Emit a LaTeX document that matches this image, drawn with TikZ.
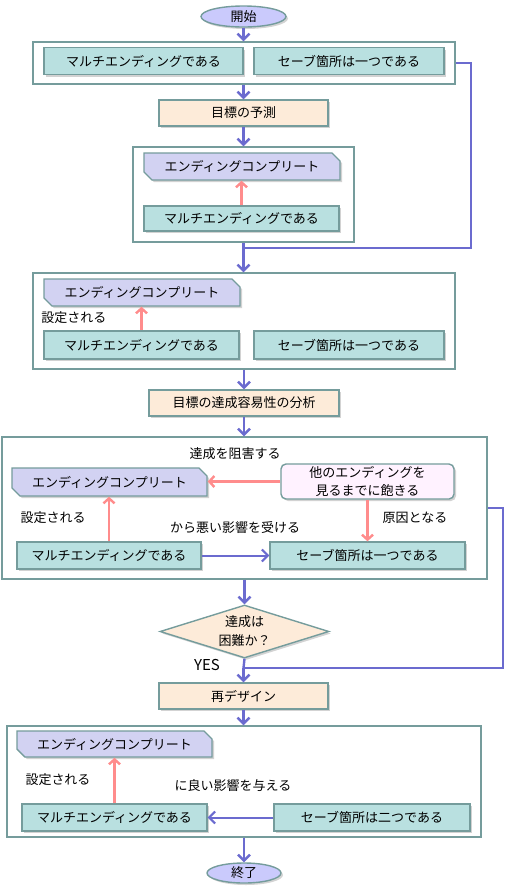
\documentclass[tikz,border=0pt]{standalone}
\usepackage{fontspec}
\setmainfont{Noto Sans CJK JP}
\usetikzlibrary{shapes.geometric, shapes.misc, shadows, arrows.meta}

\definecolor{edge}{HTML}{759C9C}
\definecolor{flowblue}{HTML}{6B6BCF}
\definecolor{linkpink}{HTML}{FF8C8C}
\definecolor{tealfill}{HTML}{B9E0E0}
\definecolor{lavfill}{HTML}{D2D2F2}
\definecolor{peach}{HTML}{FDEBD9}
\definecolor{termfill}{HTML}{CACAFC}
\definecolor{pinkfill}{HTML}{FFF2FF}

\tikzset{
  base/.style={draw=edge, line width=1.4pt, inner sep=0pt,
    drop shadow={shadow xshift=2pt, shadow yshift=-2pt, opacity=0.35}},
  terminal/.style={base, ellipse, fill=termfill},
  group/.style={draw=edge, line width=1.4pt, fill=white, inner sep=0pt},
  fact/.style={base, rectangle, fill=tealfill, minimum height=27pt},
  goal/.style={base, chamfered rectangle, chamfered rectangle corners={north east, south west},
    chamfered rectangle xsep=4pt, chamfered rectangle ysep=4pt, fill=lavfill, minimum height=27pt},
  process/.style={base, rectangle, fill=peach, minimum width=169pt, minimum height=26pt},
  cause/.style={base, rectangle, rounded corners=5pt, fill=pinkfill, align=center},
  decision/.style={base, diamond, aspect=3.2, fill=peach, align=center},
  flow/.style={draw=flowblue, line width=2.4pt, -{Straight Barb[length=6pt, width=12pt]}},
  flowline/.style={draw=flowblue, line width=2.4pt},
  link/.style={draw=linkpink, line width=2.4pt, -{Straight Barb[length=5pt, width=11pt]}},
  note/.style={inner sep=0pt}
}

\begin{document}
\begin{tikzpicture}[x=1pt, y=-1pt, font=\fontsize{13}{15}\selectfont]
  \useasboundingbox (0,0) rectangle (504,892);

  % Start
  \node[terminal, minimum width=85pt, minimum height=21pt] (start) at (243.5,16.5) {開始};

  % Group 1
  \node[group, minimum width=422pt, minimum height=42pt] (g1) at (244,63) {};
  \node[fact, minimum width=199pt] (g1multi) at (143.5,61) {マルチエンディングである};
  \node[fact, minimum width=190pt] (g1save) at (349,61) {セーブ箇所は一つである};

  % Predict
  \node[process] (predict) at (243.5,113) {目標の予測};

  % Group 2
  \node[group, minimum width=221pt, minimum height=95pt] (g2) at (243.5,194.5) {};
  \node[goal, minimum width=196pt] (g2end) at (242,166.5) {エンディングコンプリート};
  \node[fact, minimum width=195pt, minimum height=25pt] (g2multi) at (241.5,218.5) {マルチエンディングである};
  \coordinate (j1) at (243.5,248);

  % Group 3
  \node[group, minimum width=422pt, minimum height=96pt] (g3) at (244,321) {};
  \node[goal, minimum width=196pt] (g3end) at (142,292.5) {エンディングコンプリート};
  \node[fact, minimum width=195pt, minimum height=28pt] (g3multi) at (141.5,345) {マルチエンディングである};
  \node[fact, minimum width=190pt, minimum height=28pt] (g3save) at (349,345) {セーブ箇所は一つである};
  \node[note] (g3set) at (74,318) {設定される};

  % Analysis
  \node[process, minimum width=190pt] (analysis) at (244,403) {目標の達成容易性の分析};

  % Group 4
  \node[group, minimum width=485pt, minimum height=142pt] (g4) at (244.5,508) {};
  \node[goal, minimum width=195pt, minimum height=28pt] (g4end) at (109.5,482) {エンディングコンプリート};
  \node[cause, minimum width=173pt, minimum height=35pt] (g4bore) at (367.5,481.5) {他のエンディングを\\[3pt]見るまでに飽きる};
  \node[fact, minimum width=184pt] (g4multi) at (109,555.5) {マルチエンディングである};
  \node[fact, minimum width=195pt] (g4save) at (367.5,555.5) {セーブ箇所は一つである};
  \node[note] (g4block) at (235,454) {達成を阻害する};
  \node[note] (g4set) at (53,518) {設定される};
  \node[note] (g4cause) at (415,518) {原因となる};
  \node[note] (g4bad) at (235,528) {から悪い影響を受ける};

  % Decision
  \node[decision, minimum width=169pt, minimum height=53pt] (hard) at (244.5,631.5) {達成は\\[4pt]困難か？};
  \node[note, font=\fontsize{15}{17}\selectfont] (yes) at (207,665) {YES};
  \coordinate (j2) at (243.5,668);

  % Redesign
  \node[process] (redesign) at (243.5,696) {再デザイン};

  % Group 5
  \node[group, minimum width=474pt, minimum height=111pt] (g5) at (244,781.5) {};
  \node[goal, minimum width=195pt, minimum height=26pt] (g5end) at (114.5,744) {エンディングコンプリート};
  \node[fact, minimum width=185pt] (g5multi) at (114.5,817.5) {マルチエンディングである};
  \node[fact, minimum width=196pt] (g5save) at (372,817.5) {セーブ箇所は二つである};
  \node[note] (g5set) at (58,780) {設定される};
  \node[note] (g5good) at (233,786) {に良い影響を与える};

  % End
  \node[terminal, minimum width=74pt, minimum height=20pt] (end) at (244,873) {終了};

  % Main flow
  \draw[flow] (start.south) -- (start.south |- g1.north);
  \draw[flow] (g1.south -| predict) -- (predict.north);
  \draw[flow] (predict.south) -- (predict.south |- g2.north);
  \draw[flowline] (g2.south) -- (j1);
  \draw[flow] (j1) -- (j1 |- g3.north);
  \draw[flowline] (g1.east) -- ++(15,0) |- (j1);
  \draw[flow] (g3.south -| analysis) -- (analysis.north);
  \draw[flow] (analysis.south) -- (analysis.south |- g4.north);
  \draw[flow] (g4.south -| hard) -- (hard.north);
  \draw[flowline] (g4.east) -- ++(15,0) |- (j2);
  \draw[flowline] (hard.south) -- (j2);
  \draw[flow] (j2) -- (j2 |- redesign.north);
  \draw[flow] (redesign.south) -- (redesign.south |- g5.north);
  \draw[flow] (g5.south -| end) -- (end.north);

  % Links inside groups
  \draw[link] (g2multi.north) -- (g2multi.north |- g2end.south);
  \draw[link] (g3multi.north) -- (g3multi.north |- g3end.south);
  \draw[link] (g4multi.north) -- (g4multi.north |- g4end.south);
  \draw[link] (g4bore.west) -- (g4end.east |- g4bore.west);
  \draw[link] (g4bore.south) -- (g4bore.south |- g4save.north);
  \draw[flow, line width=2pt] (g4multi.east) -- (g4save.west |- g4multi.east);
  \draw[link] (g5multi.north) -- (g5multi.north |- g5end.south);
  \draw[flow, line width=2pt] (g5save.west) -- (g5multi.east |- g5save.west);

\end{tikzpicture}
\end{document}
